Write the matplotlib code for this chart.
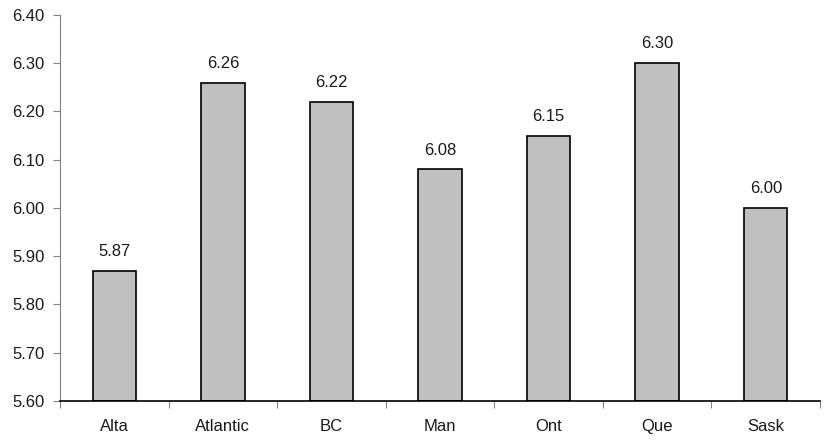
import numpy as np
import matplotlib.pyplot as plt
from matplotlib.ticker import FormatStrFormatter, FixedLocator

plt.rcParams['font.family'] = ['Liberation Sans', 'DejaVu Sans']

regions = ["Alta", "Atlantic", "BC", "Man", "Ont", "Que", "Sask"]
values = [5.87, 6.26, 6.22, 6.08, 6.15, 6.30, 6.00]

fig = plt.figure(figsize=(8.27, 4.46), dpi=100)
ax = fig.add_axes([0.0726, 0.1009, 0.919, 0.8655])

x = np.arange(len(regions))
base = 5.60
bars = ax.bar(x, np.array(values) - base, bottom=base, width=0.4,
              color="#c0c0c0", edgecolor="black", linewidth=1.2)

for xi, v in zip(x, values):
    ax.annotate(f"{v:.2f}", (xi, v), xytext=(0, 8.5), textcoords="offset points",
                ha="center", va="bottom", fontsize=12, color="#1a1a1a")

ax.set_xlim(-0.5, len(regions) - 0.5)
ax.set_ylim(5.60, 6.40)
ax.set_yticks(np.arange(5.60, 6.401, 0.10))
ax.yaxis.set_major_formatter(FormatStrFormatter("%.2f"))

# category labels sit between the boundary ticks
ax.xaxis.set_major_locator(FixedLocator(np.arange(-0.5, len(regions), 1.0)))
ax.xaxis.set_minor_locator(FixedLocator(x))
ax.set_xticklabels([])
ax.set_xticklabels(regions, minor=True)
ax.tick_params(axis="x", which="major", length=5, direction="out", color="#808080")
ax.tick_params(axis="x", which="minor", length=0, pad=13, labelsize=12, labelcolor="#1a1a1a")
ax.tick_params(axis="y", length=5, direction="out", color="#808080",
               labelsize=12, labelcolor="#1a1a1a", pad=6)

ax.spines["top"].set_visible(False)
ax.spines["right"].set_visible(False)
ax.spines["left"].set_color("#808080")
ax.spines["bottom"].set_color("black")
ax.spines["bottom"].set_linewidth(1.2)

fig.savefig("out.png", dpi=100)
